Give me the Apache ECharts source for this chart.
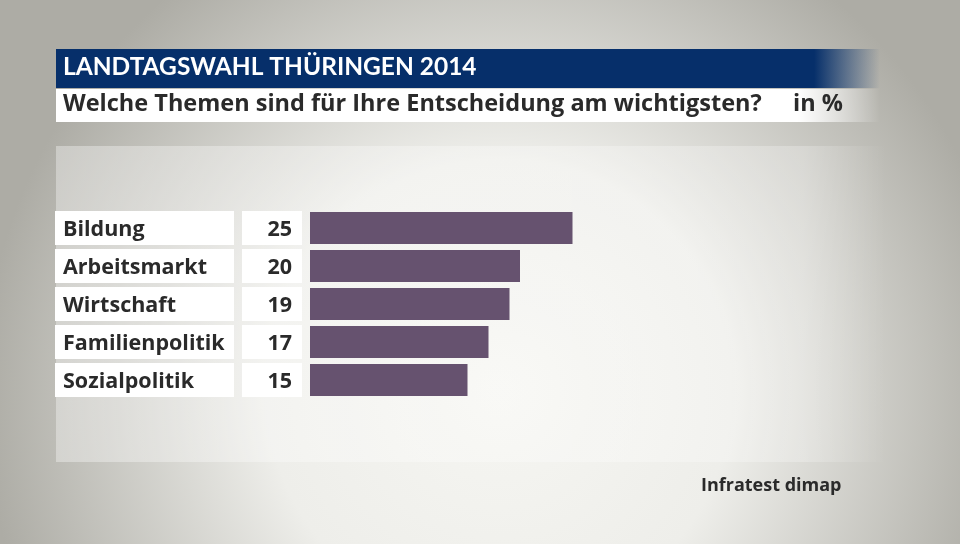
<!DOCTYPE html>
<html>
<head>
<meta charset="utf-8">
<script src="https://cdn.jsdelivr.net/npm/echarts@6/dist/echarts.min.js"></script>
<style>html,body{margin:0;padding:0;background:#b5b4ad}#c{width:960px;height:544px}</style>
</head>
<body>
<div id="c"></div>
<script>
const categories = ['Bildung', 'Arbeitsmarkt', 'Wirtschaft', 'Familienpolitik', 'Sozialpolitik'];
const values = [25, 20, 19, 17, 15];
const titleText = 'LANDTAGSWAHL THÜRINGEN 2014';
const subtitleText = 'Welche Themen sind für Ihre Entscheidung am wichtigsten?';
const unitText = 'in %';
const sourceText = 'Infratest dimap';

const FONT = 'Open Sans';
const TXT = '#2a2a2a';
const chart = echarts.init(document.getElementById('c'), null, {renderer: 'canvas'});
chart.setOption({
  animation: false,
  backgroundColor: {
    type: 'radial', x: 0.52, y: 0.72, r: 0.95,
    colorStops: [
      {offset: 0, color: '#f6f6f2'},
      {offset: 0.45, color: '#eeeeea'},
      {offset: 1, color: '#adaca5'}
    ]
  },
  graphic: [
    {type: 'rect', z: -10, shape: {x: 56, y: 146, width: 830, height: 316},
     style: {fill: {type: 'linear', x: 0, y: 0, x2: 1, y2: 0, colorStops: [
       {offset: 0, color: 'rgba(255,255,255,0.35)'},
       {offset: 0.9, color: 'rgba(255,255,255,0.25)'},
       {offset: 1, color: 'rgba(255,255,255,0)'}]}}},
    {type: 'rect', z: -5, shape: {x: 56, y: 49, width: 824, height: 39},
     style: {fill: {type: 'linear', x: 0, y: 0, x2: 1, y2: 0, colorStops: [
       {offset: 0, color: '#062f6a'}, {offset: 0.92, color: '#062f6a'},
       {offset: 1, color: 'rgba(6,47,106,0)'}]}}},
    {type: 'rect', z: -5, shape: {x: 56, y: 89, width: 824, height: 33},
     style: {fill: {type: 'linear', x: 0, y: 0, x2: 1, y2: 0, colorStops: [
       {offset: 0, color: '#ffffff'}, {offset: 0.9, color: '#ffffff'},
       {offset: 1, color: 'rgba(255,255,255,0)'}]}}}
  ],
  title: [
    {text: titleText, left: 63, top: 55, padding: 0,
     textStyle: {color: '#ffffff', fontFamily: 'Lato', fontWeight: 'bold', fontSize: 24.5}},
    {text: subtitleText, left: 63, top: 92, padding: 0,
     textStyle: {color: TXT, fontFamily: FONT, fontWeight: 'bold', fontSize: 23.5}},
    {text: unitText, left: 793, top: 92, padding: 0,
     textStyle: {color: TXT, fontFamily: FONT, fontWeight: 'bold', fontSize: 23.5}},
    {text: sourceText, left: 701, top: 477, padding: 0,
     textStyle: {color: TXT, fontFamily: FONT, fontWeight: 'bold', fontSize: 18}}
  ],
  grid: {left: 310, top: 209, width: 525, height: 190, containLabel: false},
  xAxis: {type: 'value', min: 0, max: 50, show: false},
  yAxis: {
    type: 'category', data: categories, inverse: true,
    axisLine: {show: false}, axisTick: {show: false}, splitLine: {show: false},
    axisLabel: {
      margin: 8,
      formatter: (v, i) => '{n|' + v + '}{g|}{v|' + values[i] + '}',
      rich: {
        n: {width: 171, height: 31, lineHeight: 31, padding: [3, 0, 0, 8], backgroundColor: '#ffffff', align: 'left',
            fontFamily: FONT, fontWeight: 'bold', fontSize: 21.5, color: TXT},
        g: {width: 8, height: 31, lineHeight: 31, padding: [3, 0, 0, 0]},
        v: {width: 50, height: 31, lineHeight: 31, padding: [3, 10, 0, 0], backgroundColor: '#ffffff', align: 'right',
            fontFamily: FONT, fontWeight: 'bold', fontSize: 21.5, color: TXT}
      }
    }
  },
  series: [{
    type: 'bar', data: values, barWidth: 32,
    itemStyle: {color: '#66526f'}
  }]
});
</script>
</body>
</html>
